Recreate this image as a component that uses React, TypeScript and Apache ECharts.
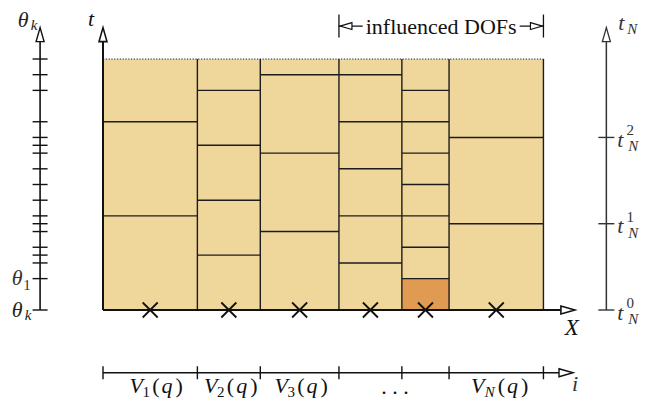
import React, { useEffect, useRef } from "react";
import * as echarts from "echarts";

// ---- data ----
const T_N = 8; // top of the time window
const colEdges = [0, 3, 5, 7.5, 9.5, 11, 14];
const columnSteps = [
  [3, 6],
  [1.75, 3.5, 5.25, 7],
  [2.5, 5, 7.5],
  [1.5, 3, 4.5, 6, 7.5],
  [1, 2, 3, 4, 5, 6, 7],
  [2.75, 5.5],
];
const highlightCell = [9.5, 11, 0, 1]; // x0, x1, t0, t1
const nodePositions = [1.5, 4, 6.25, 8.5, 10.25, 12.5];
const thetaTicks = [0, 1, 1.5, 1.75, 2, 2.5, 2.75, 3, 3.5, 4, 4.5, 5, 5.25, 5.5, 6, 7, 7.5, 8];
const tNTicks = [0, 2.75, 5.5];
const tNTickSup = ["0", "1", "2"];
const iTicks = [0, 3, 5, 7.5, 9.5, 11, 14];
const influencedRange = [7.5, 14];
const bottomLabelSubs = ["1", "2", "3", "", "N"];

// ---- styles ----
const TAN = "#EFD69B";
const ORANGE = "#E09A52";
const INK = "#111";
const SERIF = "Liberation Serif";

const AXIS_TOP = 9;
const X_END = 15;
const LEFT_X = -2;
const RIGHT_X = 16;
const I_T = -2;
const I_END = 14.94;
const BRACKET_T = 9.05;

function arrowUp(tip: number[], color: string, lw: number) {
  const len = 14, hw = 4;
  return {
    type: "polygon",
    shape: { points: [[tip[0], tip[1]], [tip[0] - hw, tip[1] + len], [tip[0] + hw, tip[1] + len]] },
    style: { fill: "#fff", stroke: color, lineWidth: lw },
  };
}
function arrowH(tip: number[], dir: number, color: string, lw: number, len = 14, hw = 4) {
  return {
    type: "polygon",
    shape: { points: [[tip[0], tip[1]], [tip[0] - dir * len, tip[1] - hw], [tip[0] - dir * len, tip[1] + hw]] },
    style: { fill: "#fff", stroke: color, lineWidth: lw },
  };
}
function seg(a: number[], b: number[], color: string, lw: number, dash?: number[]) {
  return {
    type: "line",
    shape: { x1: a[0], y1: a[1], x2: b[0], y2: b[1] },
    style: { stroke: color, lineWidth: lw, lineDash: dash },
  };
}
function txt(text: string, x: number, y: number, size: number, italic: boolean, color = INK, align = "center") {
  return {
    type: "text",
    x,
    y,
    style: {
      text,
      fontSize: size,
      fontFamily: SERIF,
      fontStyle: italic ? "italic" : "normal",
      fill: color,
      align,
      verticalAlign: "middle",
    },
  };
}

export default function App() {
  const ref = useRef<HTMLDivElement>(null);
  useEffect(() => {
    if (!ref.current) return;
    const chart = echarts.init(ref.current, undefined, { renderer: "svg" });
    const ux = 31.46;
    const vy = 31.375;
    const cellData = colEdges.slice(0, -1).map((x, i) => [x, colEdges[i + 1], i]);

    const option: any = {
      animation: false,
      textStyle: { fontFamily: SERIF },
      grid: { left: 103, top: 310 - AXIS_TOP * vy, width: X_END * ux, height: AXIS_TOP * vy },
      xAxis: { type: "value", min: 0, max: X_END, show: false },
      yAxis: { type: "value", min: 0, max: AXIS_TOP, show: false },
      series: [
        {
          type: "custom",
          name: "cells",
          clip: false,
          data: cellData,
          renderItem: (params: any, api: any) => {
            const a = api.coord([api.value(0), 0]);
            const b = api.coord([api.value(1), T_N]);
            return { type: "rect", shape: { x: a[0], y: b[1], width: b[0] - a[0], height: a[1] - b[1] }, style: { fill: TAN } };
          },
        },
        {
          type: "custom",
          name: "highlight",
          clip: false,
          data: [highlightCell],
          renderItem: (params: any, api: any) => {
            const a = api.coord([api.value(0), api.value(2)]);
            const b = api.coord([api.value(1), api.value(3)]);
            return { type: "rect", shape: { x: a[0], y: b[1], width: b[0] - a[0], height: a[1] - b[1] }, style: { fill: ORANGE } };
          },
        },
        {
          type: "custom",
          name: "cellLines",
          clip: false,
          data: cellData,
          renderItem: (params: any, api: any) => {
            const x0 = api.value(0), x1 = api.value(1), i = api.value(2);
            const children: any[] = columnSteps[i].map((t) => seg(api.coord([x0, t]), api.coord([x1, t]), "#1c1c1c", 1.4));
            children.push(seg(api.coord([x1, 0]), api.coord([x1, T_N]), "#1c1c1c", 1.4));
            return { type: "group", children };
          },
        },
        {
          type: "custom",
          name: "frame",
          clip: false,
          data: [[0]],
          renderItem: (params: any, api: any) => {
            const o = api.coord([0, 0]);
            const top = api.coord([0, AXIS_TOP]);
            const xe = api.coord([X_END, 0]);
            const children: any[] = [];
            children.push(seg(api.coord([0, T_N]), api.coord([colEdges[colEdges.length - 1], T_N]), "#222", 1, [1.2, 1.6]));
            children.push(seg(o, [top[0], top[1] + 14], INK, 2));
            children.push(arrowUp(top, INK, 1.6));
            children.push(seg(o, [xe[0] - 14, xe[1]], INK, 2));
            children.push(arrowH(xe, 1, INK, 1.6));
            children.push(txt("t", top[0] - 12, top[1] - 9, 22, true));
            children.push(txt("X", xe[0] - 3, xe[1] + 17, 23, true));
            return { type: "group", children };
          },
        },
        {
          type: "custom",
          name: "nodes",
          clip: false,
          data: nodePositions.map((x) => [x, 0]),
          renderItem: (params: any, api: any) => {
            const p = api.coord([api.value(0), api.value(1)]);
            const h = 7.5;
            return {
              type: "group",
              children: [
                seg([p[0] - h, p[1] - h], [p[0] + h, p[1] + h], INK, 1.8),
                seg([p[0] - h, p[1] + h], [p[0] + h, p[1] - h], INK, 1.8),
              ],
            };
          },
        },
        {
          type: "custom",
          name: "thetaAxis",
          clip: false,
          data: [[0]],
          renderItem: (params: any, api: any) => {
            const b = api.coord([LEFT_X, 0]);
            const top = api.coord([LEFT_X, AXIS_TOP]);
            const children: any[] = [seg(b, [top[0], top[1] + 14], INK, 1.6), arrowUp(top, INK, 1.4)];
            thetaTicks.forEach((t) => {
              const p = api.coord([LEFT_X, t]);
              children.push(seg([p[0] - 7.5, p[1]], [p[0] + 7.5, p[1]], INK, 1.4));
            });
            children.push(txt("θ", top[0] - 17, top[1] - 8, 22, true, "#222"));
            children.push(txt("k", top[0] - 6, top[1] - 3, 15, true, "#222"));
            const p1 = api.coord([LEFT_X, thetaTicks[1]]);
            children.push(txt("θ", p1[0] - 23, p1[1] - 1, 22, true, "#333"));
            children.push(txt("1", p1[0] - 13, p1[1] + 6, 15, false, "#333"));
            children.push(txt("θ", b[0] - 23, b[1] - 1, 22, true, "#222"));
            children.push(txt("k", b[0] - 12, b[1] + 5, 15, true, "#222"));
            return { type: "group", children };
          },
        },
        {
          type: "custom",
          name: "tNAxis",
          clip: false,
          data: [[0]],
          renderItem: (params: any, api: any) => {
            const col = "#333";
            const b = api.coord([RIGHT_X, 0]);
            const top = api.coord([RIGHT_X, AXIS_TOP]);
            const children: any[] = [seg(b, [top[0], top[1] + 14], col, 1.5), arrowUp(top, col, 1.3)];
            tNTicks.forEach((t, i) => {
              const p = api.coord([RIGHT_X, t]);
              children.push(seg([p[0] - 8, p[1]], [p[0] + 8, p[1]], col, 1.4));
              children.push(txt("t", p[0] + 14, p[1] + 2, 22, true, col));
              children.push(txt(tNTickSup[i], p[0] + 24, p[1] - 7, 15, false, col));
              children.push(txt("N", p[0] + 27, p[1] + 9, 15, true, col));
            });
            children.push(txt("t", top[0] + 15, top[1] - 5, 22, true, col));
            children.push(txt("N", top[0] + 26, top[1] + 1, 15, true, col));
            return { type: "group", children };
          },
        },
        {
          type: "custom",
          name: "iAxis",
          clip: false,
          data: [[0]],
          renderItem: (params: any, api: any) => {
            const a = api.coord([0, I_T]);
            const e = api.coord([I_END, I_T]);
            const children: any[] = [seg(a, [e[0] - 14, e[1]], INK, 1.6), arrowH(e, 1, INK, 1.4)];
            iTicks.forEach((x) => {
              const p = api.coord([x, I_T]);
              children.push(seg([p[0], p[1] - 6.5], [p[0], p[1] + 6.5], INK, 1.4));
            });
            children.push(txt("i", e[0] + 2, e[1] + 11, 22, true, "#333"));
            const spans = [[0, 3], [3, 5], [5, 7.5], [7.5, 11], [11, 14]];
            const shifts = [5, 1, 0.5, 0, 2.5];
            spans.forEach((s, k) => {
              const c = api.coord([(s[0] + s[1]) / 2, I_T]);
              const cx = c[0] + shifts[k];
              const cy = c[1] + 13;
              const sub = bottomLabelSubs[k];
              if (!sub) {
                children.push(txt(". . .", cx + 1, cy + 1, 22, false));
                return;
              }
              const subW = sub === "N" ? 12 : 8;
              const left = cx - (12 + subW + 30) / 2;
              children.push(txt("V", left + 6, cy, 22, true));
              children.push(txt(sub, left + 12 + subW / 2, cy + 6, 15, sub === "N"));
              children.push({
                type: "text",
                x: left + 12 + subW + 1,
                y: cy,
                style: {
                  text: "{p|(}{q|q}{p|)}",
                  align: "left",
                  verticalAlign: "middle",
                  fontFamily: SERIF,
                  fontSize: 22,
                  rich: {
                    p: { fontSize: 22, fontFamily: SERIF, fill: INK, padding: [0, 1, 0, 1] },
                    q: { fontSize: 22, fontFamily: SERIF, fontStyle: "italic", fill: INK, padding: [0, 2, 0, 1] },
                  },
                },
              });
            });
            return { type: "group", children };
          },
        },
        {
          type: "custom",
          name: "influenced",
          clip: false,
          data: [influencedRange],
          renderItem: (params: any, api: any) => {
            const a = api.coord([api.value(0), BRACKET_T]);
            const b = api.coord([api.value(1), BRACKET_T]);
            const children: any[] = [
              seg([a[0], a[1] - 11.5], [a[0], a[1] + 11.5], INK, 1.3),
              seg([b[0], b[1] - 11.5], [b[0], b[1] + 11.5], INK, 1.3),
              seg(a, b, INK, 1.3),
              arrowH([a[0] + 1, a[1]], -1, INK, 1.2, 12, 3.5),
              arrowH([b[0] - 1, b[1]], 1, INK, 1.2, 12, 3.5),
              {
                type: "text",
                x: (a[0] + b[0]) / 2,
                y: a[1],
                style: {
                  text: "influenced DOFs",
                  fontSize: 22,
                  fontFamily: SERIF,
                  fill: INK,
                  align: "center",
                  verticalAlign: "middle",
                  backgroundColor: "#fff",
                  padding: [0, 3, 0, 3],
                },
              },
            ];
            return { type: "group", children };
          },
        },
      ],
    };
    chart.setOption(option);
    return () => chart.dispose();
  }, []);
  return <div ref={ref} style={{ position: "fixed", left: 0, top: 0, width: 659, height: 403, background: "#fff" }} />;
}
